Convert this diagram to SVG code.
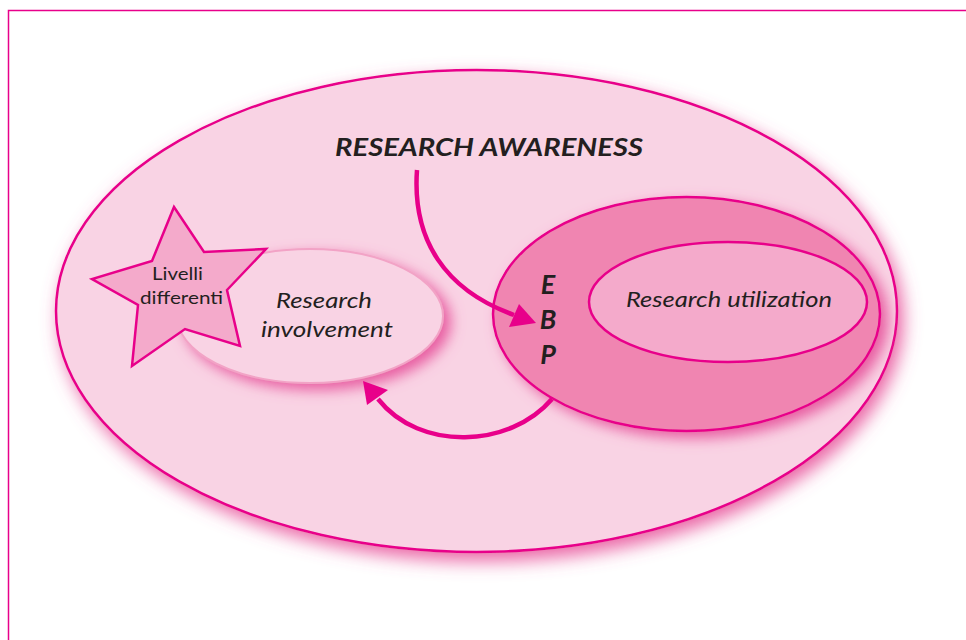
<svg xmlns="http://www.w3.org/2000/svg" width="966" height="640" viewBox="0 0 966 640">
<style>
.lbl{font-family:Lato,"Open Sans","Liberation Sans",sans-serif;fill:#231f20}
.it{font-style:italic}
.bi{font-style:italic;font-weight:bold}
.edge{fill:none;stroke:#e8008a;stroke-width:4.5;stroke-linecap:butt}
.head{fill:#e8008a}
</style>
<defs>
<filter id="glow" x="-20%" y="-20%" width="140%" height="150%">
<feGaussianBlur in="SourceAlpha" stdDeviation="9"/>
<feOffset dx="5" dy="8" result="b"/>
<feFlood flood-color="#e8559c" flood-opacity="0.9"/>
<feComposite in2="b" operator="in" result="s"/>
<feMerge><feMergeNode in="s"/><feMergeNode in="SourceGraphic"/></feMerge>
</filter>
<filter id="glow2" x="-20%" y="-20%" width="150%" height="160%">
<feGaussianBlur in="SourceAlpha" stdDeviation="7"/>
<feOffset dx="7" dy="6" result="b"/>
<feFlood flood-color="#e6509a" flood-opacity="0.9"/>
<feComposite in2="b" operator="in" result="s"/>
<feMerge><feMergeNode in="s"/><feMergeNode in="SourceGraphic"/></feMerge>
</filter>
</defs>
<rect width="966" height="640" fill="#ffffff"/>
<rect x="8.5" y="10.5" width="1000" height="700" fill="none" stroke="#e8008a" stroke-width="1.5"/>

<g id="awareness">
<ellipse cx="476.5" cy="311" rx="420.5" ry="241" fill="#f9d3e4" stroke="#e8008a" stroke-width="2.5" filter="url(#glow)"/>
<text class="lbl bi" x="489" y="156" font-size="25" text-anchor="middle" textLength="308" lengthAdjust="spacingAndGlyphs">RESEARCH AWARENESS</text>
</g>

<g id="ebp">
<ellipse cx="686.5" cy="314" rx="193.5" ry="117" fill="#f085b1" stroke="#e8008a" stroke-width="2.5" filter="url(#glow2)"/>
<text class="lbl bi" x="548" y="294" font-size="27" text-anchor="middle">E</text>
<text class="lbl bi" x="548" y="329" font-size="27" text-anchor="middle">B</text>
<text class="lbl bi" x="548" y="364" font-size="27" text-anchor="middle">P</text>
</g>

<g id="utilization">
<ellipse cx="728" cy="302" rx="139" ry="60" fill="#f4aacb" stroke="#e8008a" stroke-width="2.5"/>
<text class="lbl it" x="729" y="307" font-size="21" text-anchor="middle" textLength="206" lengthAdjust="spacingAndGlyphs">Research utilization</text>
</g>

<g id="involvement">
<ellipse cx="310" cy="316" rx="133" ry="67" fill="#f9d3e4" stroke="#f2a3c6" stroke-width="2" filter="url(#glow2)"/>
<text class="lbl it" x="324" y="308" font-size="21.5" text-anchor="middle" textLength="96" lengthAdjust="spacingAndGlyphs">Research</text>
<text class="lbl it" x="327" y="337" font-size="21.5" text-anchor="middle" textLength="132" lengthAdjust="spacingAndGlyphs">involvement</text>
</g>

<g id="livelli">
<polygon points="174,207 204,252 266,249 227,290 240,346 185,329 132,366 138,305 92,279 152,261" fill="#f4aacb" stroke="#e8008a" stroke-width="2.5" stroke-linejoin="miter"/>
<text class="lbl" x="177.5" y="280" font-size="18" text-anchor="middle" textLength="51" lengthAdjust="spacingAndGlyphs">Livelli</text>
<text class="lbl" x="181.5" y="304" font-size="18" text-anchor="middle" textLength="83" lengthAdjust="spacingAndGlyphs">differenti</text>
</g>

<g id="connectors">
<path class="edge" d="M417,170 C412,240 445,290 514,315"/>
<polygon class="head" points="536,323 509,327 519,304"/>
<path class="edge" d="M552,399 C510,448 420,452 378,399"/>
<polygon class="head" points="363,381 367,405 388,390"/>
</g>
</svg>
